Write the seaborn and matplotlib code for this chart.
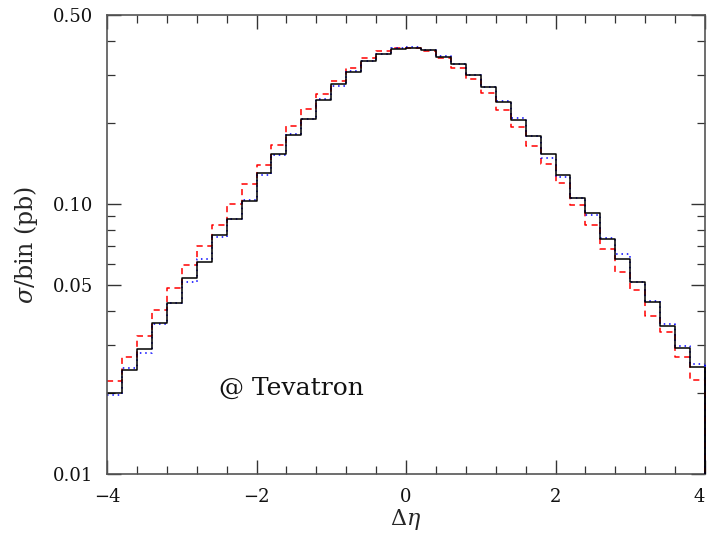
import numpy as np
import pandas as pd
import matplotlib
matplotlib.use("Agg")
import matplotlib.pyplot as plt
from matplotlib.ticker import FixedLocator, FixedFormatter, NullFormatter
import seaborn as sns

# ---- data: 40 bins of width 0.2 from -4 to 4 ----
bin_edges = [round(-4.0 + 0.2 * i, 2) for i in range(41)]
bin_centers = [(a + b) / 2 for a, b in zip(bin_edges[:-1], bin_edges[1:])]

black_solid = [0.0199, 0.0243, 0.0290, 0.0363, 0.0431, 0.0530, 0.0609, 0.0769, 0.0879, 0.1027,
               0.1304, 0.1533, 0.1803, 0.2061, 0.2417, 0.2778, 0.3076, 0.3380, 0.3586, 0.3733,
               0.3784, 0.3720, 0.3497, 0.3285, 0.2998, 0.2696, 0.2388, 0.2044, 0.1788, 0.1526,
               0.1276, 0.1049, 0.0922, 0.0741, 0.0624, 0.0515, 0.0434, 0.0354, 0.0292, 0.0248]
blue_dotted = [0.0196, 0.0247, 0.0280, 0.0359, 0.0428, 0.0512, 0.0624, 0.0756, 0.0881, 0.1036,
               0.1282, 0.1520, 0.1813, 0.2061, 0.2449, 0.2737, 0.3095, 0.3388, 0.3586, 0.3774,
               0.3797, 0.3720, 0.3536, 0.3285, 0.2998, 0.2715, 0.2409, 0.2079, 0.1788, 0.1474,
               0.1261, 0.1049, 0.0909, 0.0746, 0.0651, 0.0515, 0.0437, 0.0358, 0.0297, 0.0256]
red_dashed = [0.0221, 0.0272, 0.0324, 0.0404, 0.0487, 0.0594, 0.0699, 0.0833, 0.0999, 0.1187,
              0.1396, 0.1648, 0.1941, 0.2239, 0.2550, 0.2842, 0.3183, 0.3475, 0.3669, 0.3764,
              0.3764, 0.3679, 0.3466, 0.3175, 0.2898, 0.2572, 0.2225, 0.1930, 0.1641, 0.1409,
              0.1193, 0.0990, 0.0833, 0.0679, 0.0560, 0.0480, 0.0384, 0.0335, 0.0270, 0.0223]

y_ticks = [0.01, 0.05, 0.10, 0.50]
y_tick_labels = ["0.01", "0.05", "0.10", "0.50"]
x_ticks = [-4, -2, 0, 2, 4]
x_tick_labels = ["\u22124", "\u22122", "0", "2", "4"]

sns.set_style("ticks")
plt.rcParams["font.family"] = ["DejaVu Serif", "DejaVu Sans"]
plt.rcParams["mathtext.fontset"] = "dejavuserif"

fig = plt.figure(figsize=(7.07, 5.35), dpi=100)
ax = fig.add_axes([107 / 707, 1 - 474 / 535, 598 / 707, 459 / 535])

series = [
    (red_dashed, "#ff0000", (0, (4, 3))),
    (blue_dotted, "#0000ff", (0, (1, 2.5))),
    (black_solid, "#000000", "-"),
]
ymin = 0.01
for vals, col, ls in series:
    df = pd.DataFrame({"x": bin_centers, "w": vals})
    sns.histplot(data=df, x="x", weights="w", bins=bin_edges, element="step",
                 fill=False, color=col, linestyle=ls, linewidth=1.1, ax=ax)
    ax.vlines([bin_edges[-1]], ymin, [vals[-1]],
              colors=col, linestyles=ls, linewidth=1.3, zorder=3, clip_on=False)

ax.set_yscale("log")
ax.set_xlim(-4, 4)
ax.set_ylim(0.01, 0.5)

ax.yaxis.set_major_locator(FixedLocator(y_ticks))
ax.yaxis.set_major_formatter(FixedFormatter(y_tick_labels))
minor_y = [0.02, 0.03, 0.04, 0.06, 0.07, 0.08, 0.09, 0.2, 0.3, 0.4]
ax.yaxis.set_minor_locator(FixedLocator(minor_y))
ax.yaxis.set_minor_formatter(NullFormatter())
ax.xaxis.set_major_locator(FixedLocator(x_ticks))
ax.xaxis.set_major_formatter(FixedFormatter(x_tick_labels))
ax.xaxis.set_minor_locator(FixedLocator(np.arange(-4, 4.01, 0.4)))

ax.tick_params(which="both", direction="in", top=True, right=True, color="#333333")
ax.tick_params(which="major", length=10, width=1.0, labelsize=13, pad=10, labelcolor="#111111")
ax.tick_params(which="minor", length=6, width=0.9)
ax.get_xticklabels()[-1].set_horizontalalignment("right")
for s in ax.spines.values():
    s.set_color("#555555")
    s.set_linewidth(1.2)

ax.set_xlabel(r"$\Delta\eta$", fontsize=16, labelpad=1)
ax.set_ylabel(r"$\sigma$/bin (pb)", fontsize=17, labelpad=9)
ax.text(-2.5, 0.0208, "@ Tevatron", fontsize=18, ha="left", va="center", color="#111111")

fig.savefig("out.png", dpi=100)
